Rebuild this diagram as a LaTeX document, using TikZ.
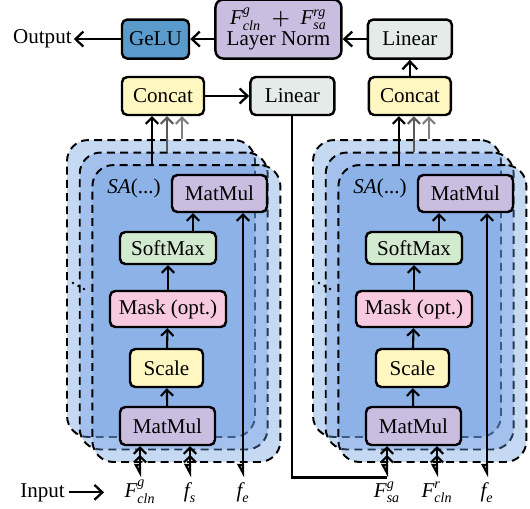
\documentclass[tikz,border=0pt]{standalone}
\usepackage{amsmath}
\usepackage{fontspec}
\setmainfont{Liberation Serif}
\usepackage{xcolor}
\usetikzlibrary{arrows.meta,positioning}
\definecolor{gelucol}{HTML}{5A9BCB}
\definecolor{mmcol}{HTML}{C9BEDF}
\definecolor{lincol}{HTML}{E4EBE9}
\definecolor{catcol}{HTML}{FFF7C2}
\definecolor{smcol}{HTML}{D2EACF}
\definecolor{maskcol}{HTML}{F8CAE0}
\definecolor{headcol}{HTML}{6598DF}

\begin{document}
\begin{tikzpicture}[x=0.02cm, y=-0.02cm, font=\fontsize{12}{13}\selectfont,
  blk/.style={draw, line width=1.4pt, rounded corners=3pt, align=center, inner sep=1pt, minimum height=7.6mm},
  head/.style={draw, dash pattern=on 4.5pt off 3pt, line width=1.1pt, rounded corners=12pt, fill=headcol, fill opacity=0.37, minimum width=37.6mm, minimum height=59.4mm},
  arr/.style={line width=1.2pt, -{Straight Barb[length=3.5pt,width=7pt]}},
  bigarr/.style={line width=1.3pt, -{Straight Barb[length=4.5pt,width=8.5pt]}},
  inarr/.style={line width=1.2pt, {Triangle[open,right,length=6.5pt,width=6.5pt]}-{Straight Barb[length=3.5pt,width=7pt]}},
  inarr2/.style={line width=1.2pt, {Triangle[open,right,length=6.5pt,width=6.5pt]}-{Straight Barb[length=3.5pt,width=7pt]Straight Barb[length=3.5pt,width=7pt]}},
  lbl/.style={inner sep=0pt, text height=11pt, text depth=4pt, anchor=north}]
  \useasboundingbox (0,0) rectangle (530,508);
  % top row
  \node[blk, fill=catcol, minimum width=16.4mm] (catl) at (163,96) {Concat};
  \node[blk, fill=lincol, minimum width=16.8mm, right=8.8mm of catl] (lin2) {Linear};
  \node[blk, fill=catcol, minimum width=16.4mm, right=6.4mm of lin2] (catr) {Concat};
  \node[blk, fill=lincol, minimum width=16.8mm, minimum height=7.8mm, above=3.2mm of catr] (lin1) {Linear};
  \node[blk, fill=mmcol, rounded corners=4.5pt, minimum width=25.2mm, minimum height=11.8mm, left=4.8mm of lin1.south west, anchor=south east] (ln) {$\textit{F}^{\textit{g}}_{\textit{cln}}\;\boldsymbol{+}\;\textit{F}^{\textit{rg}}_{\textit{sa}}$\\[-1pt]Layer Norm};
  \node[blk, fill=gelucol, minimum width=13.4mm, minimum height=7.8mm, left=4.8mm of ln.south west, anchor=south east] (gelu) {GeLU};
  \node[inner sep=1pt, left=9.4mm of gelu] (out) {Output};
  \draw[bigarr] (catr) -- (lin1);
  \draw[bigarr] (lin1) -- (lin1 -| ln.east);
  \draw[bigarr] (ln.west |- gelu) -- (gelu);
  \draw[bigarr] (gelu) -- (out);
  \draw[bigarr] (catl) -- (lin2);
  % attention heads (back to front) and their inner blocks
  \foreach \s/\sx in {l/0,r/246}{
    \foreach \i in {1,2,3}
      \node[head] (h\s\i) at (161+\sx+12.7*\i-12.7, 288.5+12.5*\i-12.5) {};
    \foreach \d in {0,1,2}
      \fill (73+\sx+5.5*\d, 283+3*\d) circle (0.8pt);
    \node[anchor=west, inner sep=0pt] (sa\s) at (107+\sx,188) {\textit{SA}(...)};
    \node[blk, fill=mmcol, minimum width=19mm, minimum height=7.4mm] (mmt\s) at (219.5+\sx,193.5) {MatMul};
    \node[blk, fill=smcol, minimum width=19.2mm, minimum height=6.4mm] (sm\s) at (168+\sx,248) {SoftMax};
    \node[blk, fill=maskcol, minimum width=23.2mm, minimum height=7.2mm] (mask\s) at (168+\sx,309) {Mask (opt.)};
    \node[blk, fill=catcol, minimum width=14.6mm] (sc\s) at (166.5+\sx,368) {Scale};
    \node[blk, fill=mmcol, minimum width=19mm] (mmb\s) at (167.5+\sx,426) {MatMul};
    \draw[arr] (mmb\s) -- (sc\s);
    \draw[arr] (sc\s) -- (mask\s);
    \draw[arr] (mask\s) -- (sm\s);
    \draw[arr] ([xshift=5mm]sm\s.north) -- ([xshift=5mm]sm\s.north |- mmt\s.south);
    \draw[arr] ([xshift=-2.2mm]cat\s.south |- h\s3.north) -- ([xshift=-2.2mm]cat\s.south);
    \draw[arr, draw=black!65] ([xshift=0.8mm]cat\s.south |- h\s2.north) -- ([xshift=0.8mm]cat\s.south);
    \draw[arr, draw=black!50] ([xshift=3.8mm]cat\s.south |- h\s1.north) -- ([xshift=3.8mm]cat\s.south);
  }
  % inputs
  \node[anchor=base west, inner sep=0pt] (inp) at (20,497) {Input};
  \coordinate (inpto) at (104,0);
  \draw[bigarr] ([xshift=2pt]inp.east) -- (inp.east -| inpto);
  \node[lbl] (fcln) at (140,477.5) {$\textit{F}^{\textit{g}}_{\textit{cln}}$};
  \node[lbl] (fs) at (190,477.5) {$\textit{f}_{\textit{s}}$};
  \node[lbl] (fel) at (243,477.5) {$\textit{f}_{\textit{e}}$};
  \node[lbl] (fsa) at (387,477.5) {$\textit{F}^{\textit{g}}_{\textit{sa}}$};
  \node[lbl] (fr) at (437,477.5) {$\textit{F}^{\textit{r}}_{\textit{cln}}$};
  \node[lbl] (fer) at (487,477.5) {$\textit{f}_{\textit{e}}$};
  \draw[inarr2] (fcln.north) -- (fcln.north |- mmbl.south);
  \draw[inarr2] (fs.north) -- (fs.north |- mmbl.south);
  \draw[inarr] (fel.north) -- (fel.north |- mmtl.south);
  \draw[line width=1.2pt] (lin2.south) |- (fsa.north);
  \draw[inarr2] (fsa.north) -- (fsa.north |- mmbr.south);
  \draw[inarr2] (fr.north) -- (fr.north |- mmbr.south);
  \draw[inarr] (fer.north) -- (fer.north |- mmtr.south);
\end{tikzpicture}
\end{document}
